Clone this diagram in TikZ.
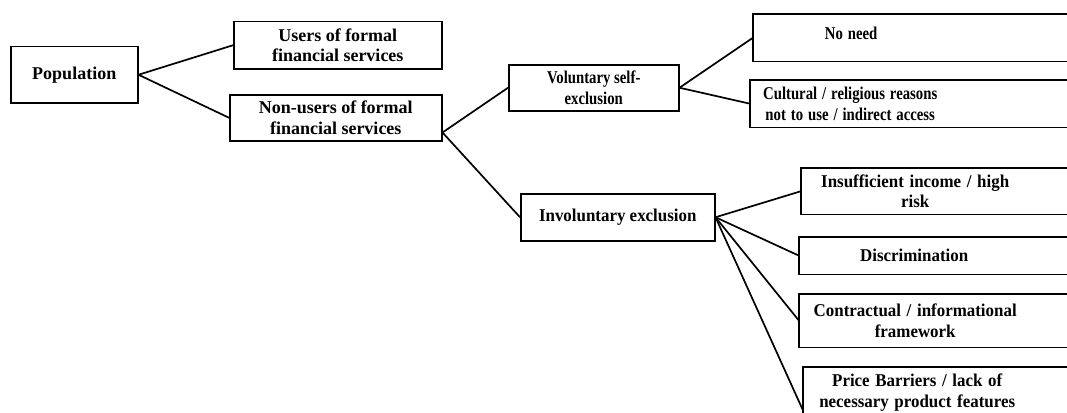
\documentclass[tikz,border=0pt]{standalone}
\usepackage{fontspec}
\setmainfont{Liberation Serif}
\usepackage{graphicx}
\usetikzlibrary{calc}
\newcommand\hsc[2]{\scalebox{#1}[1]{#2}}
\begin{document}
\begin{tikzpicture}[x=1pt,y=-1pt,
  bx/.style={draw, line width=1.5pt, inner sep=0pt, align=center,
    font=\bfseries\fontsize{18}{20.5}\selectfont, anchor=north west},
  tx/.style={inner sep=0pt, align=center,
    font=\bfseries\fontsize{18}{20.5}\selectfont, anchor=north west},
  boxframe/.style={line width=1.5pt},
  conn/.style={line width=1.7pt}]
\useasboundingbox (0,0) rectangle (1067,412);

% left and middle boxes
\node[bx, minimum width=127, minimum height=56] (pop) at (10,46) {\raisebox{3pt}{Population}};
\node[bx, minimum width=208, minimum height=47] (users) at (233,21) {Users of formal\\financial services};
\node[bx, minimum width=212, minimum height=46] (non) at (229,94) {Non-users of formal\\financial services};
\node[bx, minimum width=170, minimum height=46] (vol) at (508,64) {\hsc{.82}{Voluntary self-}\\\hsc{.82}{exclusion}};
\node[bx, minimum width=194, minimum height=47] (inv) at (520,193) {\hsc{.94}{Involuntary exclusion}};

% right boxes (cut by the right edge)
\node[tx, text width=196, minimum height=47, text depth=9pt] (need) at (753,14) {\hsc{.82}{No need}};
\node[tx, text width=200, minimum height=47] (cult) at (750,80) {\hsc{.82}{Cultural / religious reasons}\\\hsc{.82}{not to use / indirect access}};
\node[tx, text width=228, minimum height=46] (insuf) at (801,168) {\hsc{.94}{Insufficient income / high}\\\hsc{.94}{risk}};
\node[tx, text width=230, minimum height=37] (discr) at (799,237) {\hsc{.94}{Discrimination}};
\node[tx, text width=232, minimum height=53] (contr) at (799,294) {\hsc{.94}{Contractual / informational}\\\hsc{.94}{framework}};
\node[tx, text width=228, minimum height=51] (price) at (803,367) {\hsc{.94}{Price Barriers / lack of}\\\hsc{.94}{necessary product features}};

\foreach \n in {need,cult,insuf,discr,contr,price}
  \draw[boxframe] (\n.north west -| 1080,0) -- (\n.north west) -- (\n.south west) -- (\n.south west -| 1080,0);

% connectors
\coordinate (nonout) at ($(non.south east)+(0,-9)$);
\coordinate (pricein) at ($(price.south west)+(0,-8)$);
\draw[conn] (pop.east) -- (users.west);
\draw[conn] (pop.east) -- (non.west);
\draw[conn] (nonout) -- (vol.west);
\draw[conn] (nonout) -- (inv.west);
\draw[conn] (vol.east) -- (need.west);
\draw[conn] (vol.east) -- (cult.west);
\draw[conn] (inv.east) -- (insuf.west);
\draw[conn] (inv.east) -- (discr.west);
\draw[conn] (inv.east) -- (contr.west);
\draw[conn] (inv.east) -- (pricein);
\end{tikzpicture}
\end{document}
